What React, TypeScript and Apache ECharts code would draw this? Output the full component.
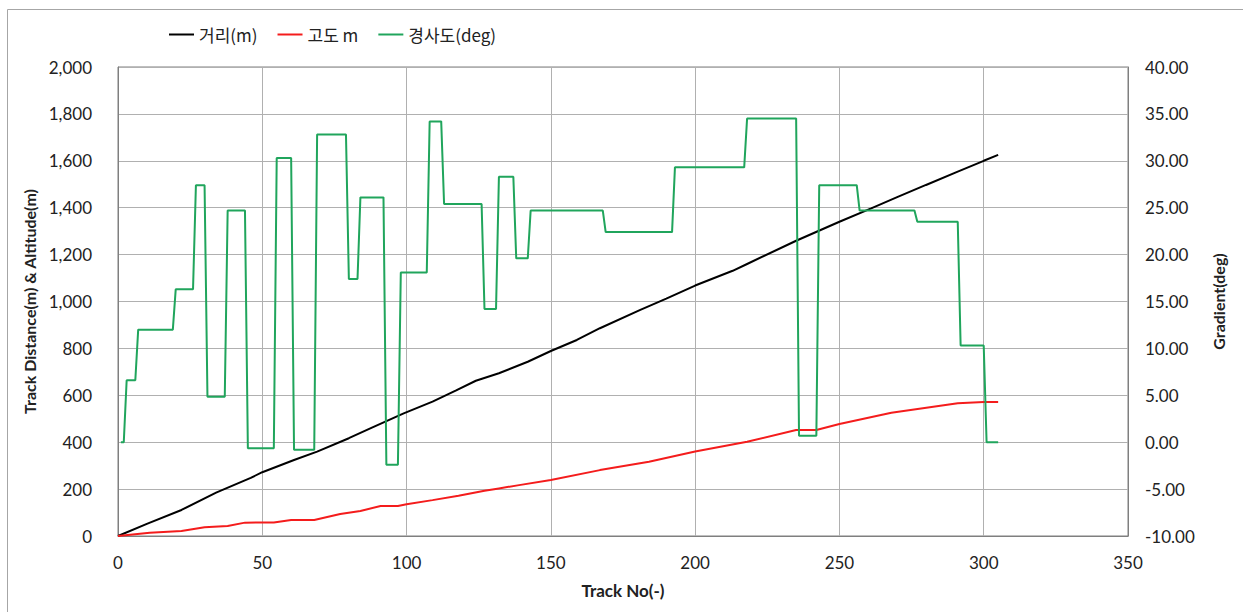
import React, { useEffect, useRef } from "react";
import * as echarts from "echarts";

// Track number vs. cumulative track distance (m)
const distancePoints: [number, number][] = [
  [0, 0], [10, 52], [22, 111], [34, 185], [46, 248], [50, 272], [61, 324],
  [69, 360], [80, 417], [88, 462], [99, 523], [109, 573], [117, 620],
  [124, 662], [132, 694], [142, 743], [150, 789], [159, 836], [167, 886],
  [181, 964], [190, 1012], [200, 1068], [213, 1131], [218, 1160],
  [235, 1259], [250, 1340], [261, 1397], [270, 1445], [280, 1497],
  [291, 1554], [300, 1600], [305, 1625],
];

// Track number vs. altitude (m)
const altitudePoints: [number, number][] = [
  [0, 0], [11, 14], [22, 21], [30, 37], [38, 43], [44, 57], [54, 58],
  [60, 68], [68, 68], [77, 94], [84, 107], [91, 128], [97, 128], [100, 135],
  [109, 153], [118, 172], [127, 193], [132, 203], [139, 217], [150, 239],
  [167, 281], [184, 317], [200, 360], [218, 402], [235, 452], [242, 452],
  [250, 478], [268, 526], [291, 566], [300, 571], [305, 571],
];

// Track number vs. gradient (deg), start/end of each constant section
const gradientPoints: [number, number][] = [
  [1, 0], [2, 0],
  [3, 6.6], [6, 6.6],
  [7, 12], [19, 12],
  [20, 16.3], [26, 16.3],
  [27, 27.4], [30, 27.4],
  [31, 4.85], [37, 4.85],
  [38, 24.7], [44, 24.7],
  [45, -0.65], [54, -0.65],
  [55, 30.3], [60, 30.3],
  [61, -0.8], [68, -0.8],
  [69, 32.8], [79, 32.8],
  [80, 17.4], [83, 17.4],
  [84, 26.1], [92, 26.1],
  [93, -2.4], [97, -2.4],
  [98, 18.1], [107, 18.1],
  [108, 34.2], [112, 34.2],
  [113, 25.4], [126, 25.4],
  [127, 14.2], [131, 14.2],
  [132, 28.3], [137, 28.3],
  [138, 19.6], [142, 19.6],
  [143, 24.7], [168, 24.7],
  [169, 22.4], [192, 22.4],
  [193, 29.3], [217, 29.3],
  [218, 34.5], [235, 34.5],
  [236, 0.7], [242, 0.7],
  [243, 27.4], [256, 27.4],
  [257, 24.7], [276, 24.7],
  [277, 23.5], [291, 23.5],
  [292, 10.3], [300, 10.3],
  [301, 0], [305, 0],
];

const seriesNames = ["거리(m)", "고도 m", "경사도(deg)"];
const seriesColors = ["#000000", "#f41c1c", "#20a55c"];

const FONT = 'Lato, "Open Sans", sans-serif';
const KR_FONT = '"Noto Sans CJK KR", "Noto Sans", sans-serif';
const TEXT = "#222222";
const GRID_LINE = "#b0b0b0";
const FRAME = "#7f7f7f";

export default function App() {
  const ref = useRef<HTMLDivElement>(null);

  useEffect(() => {
    document.body.style.margin = "0";
    const chart = echarts.init(ref.current!, null, { renderer: "svg" });
    chart.setOption({
      animation: false,
      backgroundColor: "#ffffff",
      textStyle: { fontFamily: FONT },
      graphic: [
        {
          type: "line",
          shape: { x1: 7.5, y1: 9.5, x2: 1243, y2: 9.5 },
          style: { stroke: "#a6a6a6", lineWidth: 1 },
        },
        {
          type: "line",
          shape: { x1: 7.5, y1: 9.5, x2: 7.5, y2: 612 },
          style: { stroke: "#a6a6a6", lineWidth: 1 },
        },
      ],
      legend: {
        left: 164,
        top: 21,
        icon: "rect",
        itemWidth: 25,
        itemHeight: 2,
        itemGap: 20,
        data: seriesNames,
        textStyle: { fontFamily: KR_FONT, fontSize: 17, color: TEXT, padding: [0, 0, 0, 0] },
      },
      grid: {
        left: 118,
        right: 115,
        top: 67,
        bottom: 76,
        show: true,
        borderColor: FRAME,
        borderWidth: 1,
      },
      xAxis: {
        type: "value",
        min: 0,
        max: 350,
        interval: 50,
        name: "Track No(-)",
        nameLocation: "middle",
        nameGap: 46,
        nameTextStyle: { fontWeight: "bold", fontSize: 17, color: TEXT, fontFamily: FONT },
        axisLine: { show: true, lineStyle: { color: FRAME } },
        axisTick: { show: false },
        axisLabel: { fontSize: 17, color: TEXT, margin: 18, showMinLabel: true, showMaxLabel: true },
        splitLine: { show: true, lineStyle: { color: GRID_LINE, width: 1 } },
      },
      yAxis: [
        {
          type: "value",
          min: 0,
          max: 2000,
          interval: 200,
          name: "Track Distance(m) & Altitude(m)",
          nameLocation: "middle",
          nameRotate: 90,
          nameGap: 58,
          nameTextStyle: { fontWeight: "bold", fontSize: 16, color: TEXT, fontFamily: FONT },
          axisLine: { show: true, lineStyle: { color: FRAME } },
          axisTick: { show: false },
          axisLabel: {
            fontSize: 17,
            color: TEXT,
            margin: 26,
            formatter: (v: number) => v.toLocaleString("en-US"),
          },
          splitLine: { show: true, lineStyle: { color: GRID_LINE, width: 1 } },
        },
        {
          type: "value",
          position: "right",
          min: -10,
          max: 40,
          interval: 5,
          name: "Gradient(deg)",
          nameLocation: "middle",
          nameRotate: 90,
          nameGap: 82,
          nameTextStyle: { fontWeight: "bold", fontSize: 16, color: TEXT, fontFamily: FONT },
          axisLine: { show: true, lineStyle: { color: FRAME } },
          axisTick: { show: false },
          axisLabel: {
            fontSize: 17,
            color: TEXT,
            margin: 17,
            formatter: (v: number) => v.toFixed(2),
          },
          splitLine: { show: false },
        },
      ],
      series: [
        {
          name: seriesNames[0],
          type: "line",
          symbol: "none",
          data: distancePoints,
          color: seriesColors[0],
          lineStyle: { width: 2, color: seriesColors[0] },
        },
        {
          name: seriesNames[1],
          type: "line",
          symbol: "none",
          data: altitudePoints,
          color: seriesColors[1],
          lineStyle: { width: 2, color: seriesColors[1] },
        },
        {
          name: seriesNames[2],
          type: "line",
          symbol: "none",
          yAxisIndex: 1,
          data: gradientPoints,
          color: seriesColors[2],
          lineStyle: { width: 2, color: seriesColors[2] },
        },
      ],
    });
    return () => chart.dispose();
  }, []);

  return <div ref={ref} style={{ width: 1243, height: 612 }} />;
}
